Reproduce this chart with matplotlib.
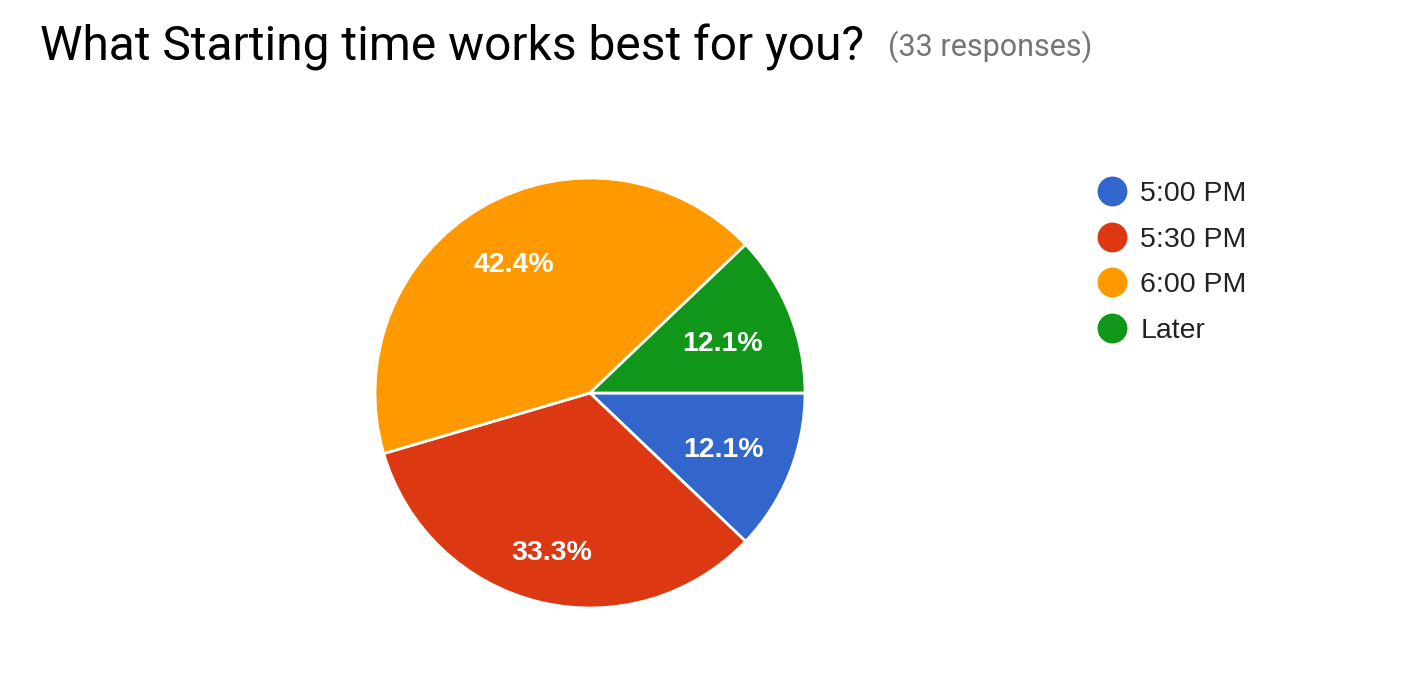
import numpy as np
import matplotlib
matplotlib.use("Agg")
import matplotlib.pyplot as plt
from matplotlib.lines import Line2D

categories = ["5:00 PM", "5:30 PM", "6:00 PM", "Later"]
counts = [4, 11, 14, 4]
colors = ["#3366CC", "#DC3912", "#FF9900", "#109618"]
title = "What Starting time works best for you?"
subtitle = "(33 responses)"

# label distance from centre (fraction of radius) per slice, as in reference
label_dist = [0.667, 0.748, 0.709, 0.664]

W, H = 1404, 692
fig = plt.figure(figsize=(W / 100, H / 100), dpi=100)

cx, cy, r = 590, 393, 215
ax = fig.add_axes([(cx - r) / W, 1 - (cy + r) / H, 2 * r / W, 2 * r / H])
wedges, texts, autotexts = ax.pie(
    counts, colors=colors, startangle=0, counterclock=False,
    autopct="%1.1f%%", pctdistance=0.7,
    wedgeprops=dict(edgecolor="white", linewidth=2),
    textprops=dict(color="white", fontsize=20.5, fontweight="bold",
                   family="Liberation Sans"),
)
dy = -4 / r
for w, at, d in zip(wedges, autotexts, label_dist):
    ang = np.deg2rad((w.theta1 + w.theta2) / 2)
    at.set_position((d * np.cos(ang), d * np.sin(ang) + dy))
ax.set_aspect("equal")
ax.set_xlim(-1, 1)
ax.set_ylim(-1, 1)

t = fig.text(40 / W, 1 - 47 / H, title, fontsize=34.5, family="Roboto",
             color="#000000", va="center", ha="left")
fig.canvas.draw()
bb = t.get_window_extent()
fig.text((bb.x1 + 24) / W, 1 - 47 / H, subtitle, fontsize=22, family="Roboto",
         color="#757575", va="center", ha="left")

handles = [Line2D([], [], marker="o", linestyle="none", markersize=20.5,
                  markerfacecolor=c, markeredgecolor=c) for c in colors]
leg = fig.legend(handles, categories, loc="upper left",
                 bbox_to_anchor=(1096 / W, 1 - 181 / H), frameon=False,
                 prop=dict(family="Liberation Sans", size=20.5),
                 handletextpad=0.45, labelspacing=0.69, handlelength=1.1,
                 borderaxespad=0, borderpad=0)
for txt in leg.get_texts():
    txt.set_color("#222222")

fig.savefig("out.png", dpi=100)
